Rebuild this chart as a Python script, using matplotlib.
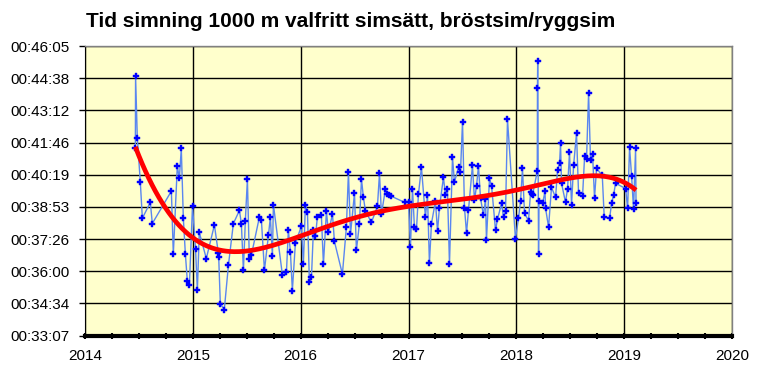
"""Tid simning 1000 m, bröstsim/ryggsim, med polynomtrend."""
import numpy as np
from matplotlib import pyplot as plt
from matplotlib.ticker import FuncFormatter, MultipleLocator

# Datum som decimalår och tider som mm:ss
dates = [
    2014.467, 2014.469, 2014.485, 2014.513, 2014.532, 2014.606, 2014.624,
    2014.801, 2014.819, 2014.856, 2014.875, 2014.893, 2014.912, 2014.931,
    2014.949, 2014.968, 2014.997, 2015.025, 2015.042, 2015.060, 2015.125,
    2015.200, 2015.237, 2015.240, 2015.255, 2015.292, 2015.330, 2015.376,
    2015.432, 2015.450, 2015.469, 2015.487, 2015.506, 2015.524, 2015.543,
    2015.617, 2015.636, 2015.664, 2015.701, 2015.719, 2015.738, 2015.747,
    2015.831, 2015.868, 2015.886, 2015.905, 2015.923, 2015.951, 2016.007,
    2016.025, 2016.044, 2016.063, 2016.081, 2016.100, 2016.118, 2016.137,
    2016.155, 2016.192, 2016.211, 2016.239, 2016.257, 2016.295, 2016.313,
    2016.387, 2016.424, 2016.443, 2016.462, 2016.499, 2016.517, 2016.545,
    2016.564, 2016.582, 2016.601, 2016.656, 2016.712, 2016.731, 2016.749,
    2016.786, 2016.805, 2016.823, 2016.842, 2016.963, 2017.000, 2017.018,
    2017.037, 2017.055, 2017.074, 2017.092, 2017.120, 2017.157, 2017.176,
    2017.194, 2017.213, 2017.250, 2017.269, 2017.287, 2017.324, 2017.343,
    2017.361, 2017.380, 2017.408, 2017.426, 2017.464, 2017.482, 2017.501,
    2017.519, 2017.538, 2017.556, 2017.593, 2017.612, 2017.631, 2017.649,
    2017.668, 2017.695, 2017.714, 2017.723, 2017.751, 2017.770, 2017.807,
    2017.825, 2017.863, 2017.881, 2017.900, 2017.918, 2017.992, 2018.020,
    2018.039, 2018.057, 2018.076, 2018.113, 2018.132, 2018.141, 2018.150,
    2018.194, 2018.196, 2018.198, 2018.206, 2018.210, 2018.243, 2018.266,
    2018.271, 2018.299, 2018.326, 2018.364, 2018.382, 2018.401, 2018.410,
    2018.419, 2018.456, 2018.475, 2018.493, 2018.512, 2018.531, 2018.558,
    2018.577, 2018.614, 2018.633, 2018.651, 2018.670, 2018.688, 2018.707,
    2018.725, 2018.744, 2018.797, 2018.815, 2018.865, 2018.883, 2018.902,
    2018.920, 2019.013, 2019.032, 2019.050, 2019.069, 2019.087, 2019.106,
    2019.110,
]
times = [
    "41:31", "44:44", "41:59", "39:59", "38:22", "39:05", "38:08",
    "39:35", "36:45", "40:42", "40:09", "41:30", "38:22", "36:45",
    "35:34", "35:22", "38:56", "37:00", "35:09", "37:44", "36:34",
    "38:04", "36:48", "36:37", "34:32", "34:17", "36:16", "38:08",
    "38:43", "38:08", "36:02", "38:16", "40:07", "36:33", "36:43",
    "38:25", "38:17", "36:02", "37:36", "38:25", "36:40", "38:59",
    "35:49", "35:57", "37:50", "36:51", "35:08", "37:15", "38:01",
    "36:18", "38:59", "38:38", "35:30", "35:43", "37:50", "37:34",
    "38:25", "38:30", "36:18", "38:41", "37:44", "38:33", "37:20",
    "35:52", "37:58", "40:26", "37:39", "39:29", "36:56", "38:08",
    "40:07", "39:18", "38:41", "38:11", "38:54", "40:23", "38:33",
    "39:40", "39:26", "39:24", "39:21", "39:05", "39:05", "37:04",
    "39:42", "37:58", "37:52", "39:26", "40:39", "38:25", "39:24",
    "36:21", "38:08", "39:08", "37:47", "38:51", "40:12", "39:24",
    "39:40", "36:18", "41:06", "39:59", "40:39", "40:26", "42:42",
    "38:51", "37:42", "38:43", "40:44", "39:10", "39:50", "40:42",
    "39:16", "38:30", "39:13", "37:23", "40:09", "39:50", "37:50",
    "38:19", "39:02", "38:25", "38:41", "42:48", "37:26", "38:22",
    "39:08", "40:36", "38:35", "38:16", "39:32", "39:26", "39:24",
    "40:28", "44:11", "45:24", "36:45", "39:08", "39:02", "39:34",
    "38:49", "37:58", "39:45", "39:18", "40:31", "40:50", "41:43",
    "39:56", "39:05", "39:42", "41:19", "38:59", "40:44", "42:10",
    "39:29", "39:21", "41:08", "41:00", "43:58", "40:58", "41:14",
    "39:16", "40:36", "40:17", "38:25", "38:22", "39:02", "39:24",
    "39:56", "39:42", "38:49", "41:33", "40:15", "38:46", "41:30",
    "39:02",
]
title = "Tid simning 1000 m valfritt simsätt, bröstsim/ryggsim"
trend_degree = 6


def to_seconds(mmss):
    m, s = mmss.split(":")
    return int(m) * 60 + int(s)


def hms(value, pos=None):
    total = int(round(value))
    return f"{total // 3600:02d}:{total % 3600 // 60:02d}:{total % 60:02d}"


x = np.array(dates)
y = np.array([to_seconds(t) for t in times], dtype=float)

# Trendlinje som i Excel: polynom anpassat till datan
xc = x - x.mean()
coef = np.polyfit(xc, y, trend_degree)
xs = np.linspace(x.min(), x.max(), 300)
ys = np.polyval(coef, xs - x.mean())

plt.rcParams['font.family'] = ['Liberation Sans', 'DejaVu Sans']

fig = plt.figure(figsize=(7.58, 3.66), dpi=100)
ax = fig.add_axes([85 / 758, 1 - 335.5 / 366, 647 / 758, 289.5 / 366])
ax.set_facecolor('#ffffcc')

ax.plot(x, y, color='#5a86f0', lw=1, zorder=3)
ax.plot(x, y, ls='none', marker='P', ms=4.5, mfc='#0000ff', mec='#0000ff',
        mew=0.3, zorder=4)
ax.plot(xs, ys, color='#ff0000', lw=3.4, solid_capstyle='butt', zorder=5)

day = 86400
ax.set_ylim(0.023 * day, 0.032 * day)
ax.set_yticks(np.arange(0.023, 0.03205, 0.001) * day)
ax.yaxis.set_major_formatter(FuncFormatter(hms))
ax.set_xlim(2014, 2020)
ax.set_xticks(range(2014, 2021))
ax.xaxis.set_minor_locator(MultipleLocator(0.25))

ax.grid(True, color='black', lw=1)
ax.set_axisbelow(True)
ax.tick_params(axis='both', labelsize=11, colors='black')
ax.tick_params(axis='y', length=4, width=1, pad=7)
ax.tick_params(axis='x', which='major', direction='inout', length=5,
               width=1.5, pad=7)
ax.tick_params(axis='x', which='minor', direction='inout', length=4, width=1.5)

for side in ['top', 'right']:
    ax.spines[side].set_color('#808080')
    ax.spines[side].set_linewidth(1)
ax.spines['left'].set_color('black')
ax.spines['bottom'].set_linewidth(3)
ax.spines['bottom'].set_color('black')

fig.text(351 / 758, 1 - 27 / 366, title, ha='center', va='baseline',
         fontsize=15, fontweight='bold')

fig.savefig('out.png', dpi=100)
